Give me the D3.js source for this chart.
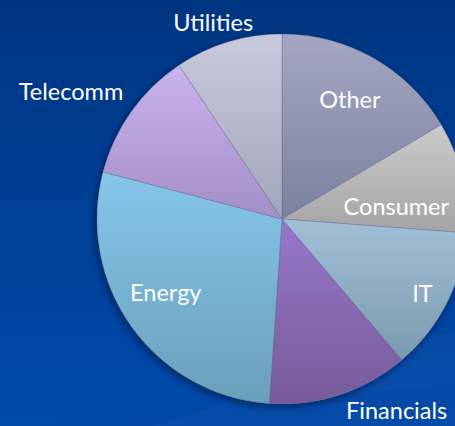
<!DOCTYPE html>
<html>
<head>
<meta charset="utf-8">
<script src="https://cdn.jsdelivr.net/npm/d3@7"></script>
<style>
  html, body { margin: 0; padding: 0; background: #003e94; }
  svg { display: block; }
</style>
</head>
<body>
<svg id="chart" width="455" height="426"></svg>
<script>
// sector weights, clockwise from 12 o'clock
const sectors = ['Other', 'Consumer', 'IT', 'Financials', 'Energy', 'Telecomm', 'Utilities']
const weights = [16.5, 9.7, 12.6, 12.3, 28.0, 11.5, 9.4]

// top / bottom gradient stops of each slice
const topColors = ['#a3a7c3', '#cbcbcb', '#a2bfd8', '#9678ca', '#86c6ea', '#cbb3ee', '#c8cade']
const bottomColors = ['#7c819d', '#a4a4a4', '#7a9aae', '#775a98', '#6a9fbb', '#a28ec6', '#a2a6ba']

// label placement: radius from centre and angular nudge (degrees)
const labelPlace = {
  'Other':      { r: 137, nudge: 0 },
  'Consumer':   { r: 115, nudge: 7 },
  'IT':         { r: 159, nudge: 1 },
  'Financials': { r: 224, nudge: -12.6 },
  'Energy':     { r: 138, nudge: 3 },
  'Telecomm':   { r: 246, nudge: -4.5 },
  'Utilities':  { r: 208, nudge: -2.4 }
}

const width = 455, height = 426
const cx = 282, cy = 219, radius = 185

const svg = d3.select('#chart')
const defs = svg.append('defs')

const bg = defs.append('linearGradient').attr('id', 'bg')
  .attr('x1', 0).attr('y1', 0).attr('x2', 0).attr('y2', 1)
bg.append('stop').attr('offset', '0%').attr('stop-color', '#003580')
bg.append('stop').attr('offset', '100%').attr('stop-color', '#004aab')

const shadow = defs.append('filter').attr('id', 'shadow')
  .attr('x', '-20%').attr('y', '-20%').attr('width', '140%').attr('height', '140%')
shadow.append('feDropShadow')
  .attr('dx', -2).attr('dy', 3).attr('stdDeviation', 3.5)
  .attr('flood-color', '#000a30').attr('flood-opacity', 0.6)

sectors.forEach((s, i) => {
  const g = defs.append('linearGradient').attr('id', 'grad' + i)
    .attr('x1', 0).attr('y1', 0).attr('x2', 0).attr('y2', 1)
  g.append('stop').attr('offset', '0%').attr('stop-color', topColors[i])
  g.append('stop').attr('offset', '100%').attr('stop-color', bottomColors[i])
})

svg.append('rect').attr('width', width).attr('height', height).attr('fill', 'url(#bg)')

// faint sweep in the lower right of the backdrop
svg.append('path')
  .attr('d', `M 150 ${height} Q 330 370 ${width} 330 L ${width} ${height} Z`)
  .attr('fill', '#ffffff').attr('opacity', 0.025)
svg.append('path')
  .attr('d', `M 40 ${height} Q 260 400 ${width} 385 L ${width} ${height} Z`)
  .attr('fill', '#001a60').attr('opacity', 0.06)

const pie = d3.pie().sort(null).value(d => d)
const arcs = pie(weights)
const arc = d3.arc().innerRadius(0).outerRadius(radius)

const g = svg.append('g').attr('transform', `translate(${cx},${cy})`)

g.append('circle').attr('r', radius).attr('fill', '#8a9ab8').attr('filter', 'url(#shadow)')

g.selectAll('path.slice')
  .data(arcs)
  .enter().append('path')
  .attr('class', 'slice')
  .attr('d', arc)
  .attr('fill', (d, i) => `url(#grad${i})`)
  .attr('stroke', '#5a6488')
  .attr('stroke-opacity', 0.6)
  .attr('stroke-width', 0.6)

g.selectAll('text.lbl')
  .data(arcs)
  .enter().append('text')
  .attr('class', 'lbl')
  .attr('transform', (d, i) => {
    const p = labelPlace[sectors[i]]
    const mid = (d.startAngle + d.endAngle) / 2 + p.nudge * Math.PI / 180
    const [x, y] = d3.pointRadial(mid, p.r)
    return `translate(${x},${y + 8})`
  })
  .attr('text-anchor', 'middle')
  .attr('fill', '#ffffff')
  .style('font-family', 'Lato, "Open Sans", sans-serif')
  .style('font-size', '23.5px')
  .text((d, i) => sectors[i])
</script>
</body>
</html>
